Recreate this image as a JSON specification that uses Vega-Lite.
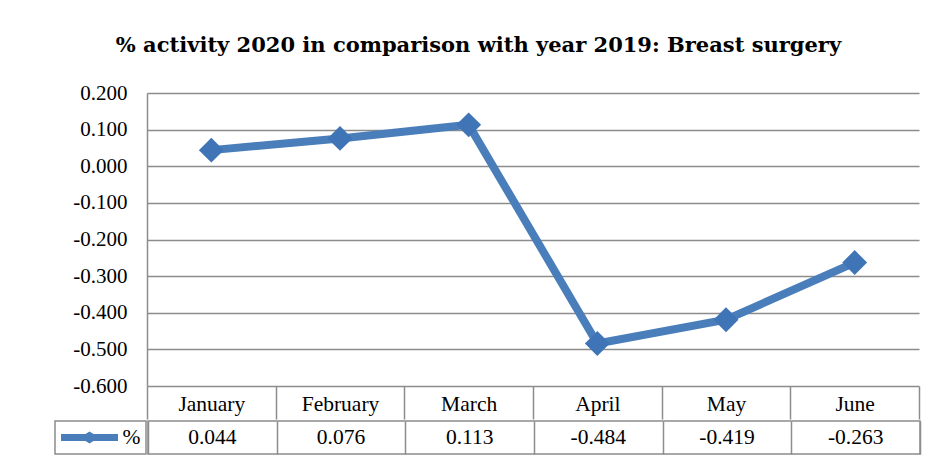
{
  "$schema": "https://vega.github.io/schema/vega-lite/v6.json",
  "background": "white",
  "padding": {"left": 54, "top": 35, "right": 10, "bottom": 5},
  "config": {"view": {"stroke": null}, "font": "Liberation Serif", "concat": {"spacing": 0}},
  "title": {"text": "% activity 2020 in comparison with year 2019: Breast surgery", "font": "DejaVu Serif", "fontSize": 21, "fontWeight": "bold", "color": "black", "anchor": "middle", "offset": 26, "dx": -9},
  "datasets": {
    "activity": [
      {"month": "January", "value": 0.044},
      {"month": "February", "value": 0.076},
      {"month": "March", "value": 0.113},
      {"month": "April", "value": -0.484},
      {"month": "May", "value": -0.419},
      {"month": "June", "value": -0.263}
    ],
    "series": [{"series": "%"}]
  },
  "spacing": 0,
  "vconcat": [
    {
      "spacing": 0,
      "hconcat": [
        {"width": 0.01, "height": 293, "data": {"values": []}, "mark": "point", "encoding": {}},
        {
          "width": 772,
          "height": 293,
          "data": {"name": "activity"},
          "encoding": {
            "x": {"field": "month", "type": "nominal", "sort": null, "title": null,
              "scale": {"type": "band", "paddingInner": 0, "paddingOuter": 0},
              "axis": {"orient": "bottom", "tickBand": "extent", "ticks": true, "tickSize": 33, "tickColor": "#8c8c8c", "tickWidth": 1.5, "domain": false, "grid": false, "labelFont": "Liberation Serif", "labelFontSize": 21.5, "labelColor": "black", "labelBaseline": "middle", "labelPadding": -14.5, "labelAngle": 0}},
            "y": {"field": "value", "type": "quantitative", "scale": {"domain": [-0.6, 0.2], "nice": false, "zero": false},
              "axis": {"values": [0.2, 0.1, 0, -0.1, -0.2, -0.3, -0.4, -0.5, -0.6], "labelExpr": "(datum.value < 0 ? '-' : '') + format(abs(datum.value), '.3f')", "title": null, "ticks": false, "domain": true, "domainColor": "#8c8c8c", "domainWidth": 1.5, "grid": true, "gridColor": "#8c8c8c", "gridWidth": 1.5, "labelFont": "Liberation Serif", "labelFontSize": 21, "labelColor": "black", "labelPadding": 20, "minExtent": 91, "maxExtent": 91}}
          },
          "layer": [
            {"mark": {"type": "line", "color": "#4a7ebb", "strokeWidth": 8}},
            {"mark": {"type": "point", "shape": "diamond", "filled": true, "size": 620, "color": "#3f74b7", "opacity": 1}}
          ]
        }
      ]
    },
    {
      "spacing": 0,
      "hconcat": [
        {
          "width": 91,
          "height": 33,
          "view": {"stroke": "#8c8c8c", "strokeWidth": 1.5},
          "data": {"name": "series"},
          "layer": [
            {"mark": {"type": "point", "shape": "M-1,-0.123L-0.14,-0.123L0,-0.21L0.14,-0.123L1,-0.123L1,0.123L0.14,0.123L0,0.21L-0.14,0.123L-1,0.123Z", "filled": true, "size": 3249, "color": "#4a7ebb", "opacity": 1, "xOffset": -11}, "encoding": {}},
            {"mark": {"type": "text", "align": "right", "dx": 40, "fontSize": 21.5, "color": "black", "font": "Liberation Serif"}, "encoding": {"text": {"field": "series"}}}
          ]
        },
        {
          "width": 772,
          "height": 33,
          "view": {"stroke": "#8c8c8c", "strokeWidth": 1.5},
          "data": {"name": "activity"},
          "mark": {"type": "text", "fontSize": 21.5, "color": "black", "font": "Liberation Serif", "text": {"expr": "(datum.value < 0 ? '-' : '') + format(abs(datum.value), '.3f')"}},
          "encoding": {
            "x": {"field": "month", "type": "nominal", "sort": null, "scale": {"type": "band", "paddingInner": 0, "paddingOuter": 0},
              "axis": {"grid": true, "tickBand": "extent", "labels": false, "ticks": false, "domain": false, "title": null, "gridColor": "#8c8c8c", "gridWidth": 1.5}}
          }
        }
      ]
    }
  ]
}
